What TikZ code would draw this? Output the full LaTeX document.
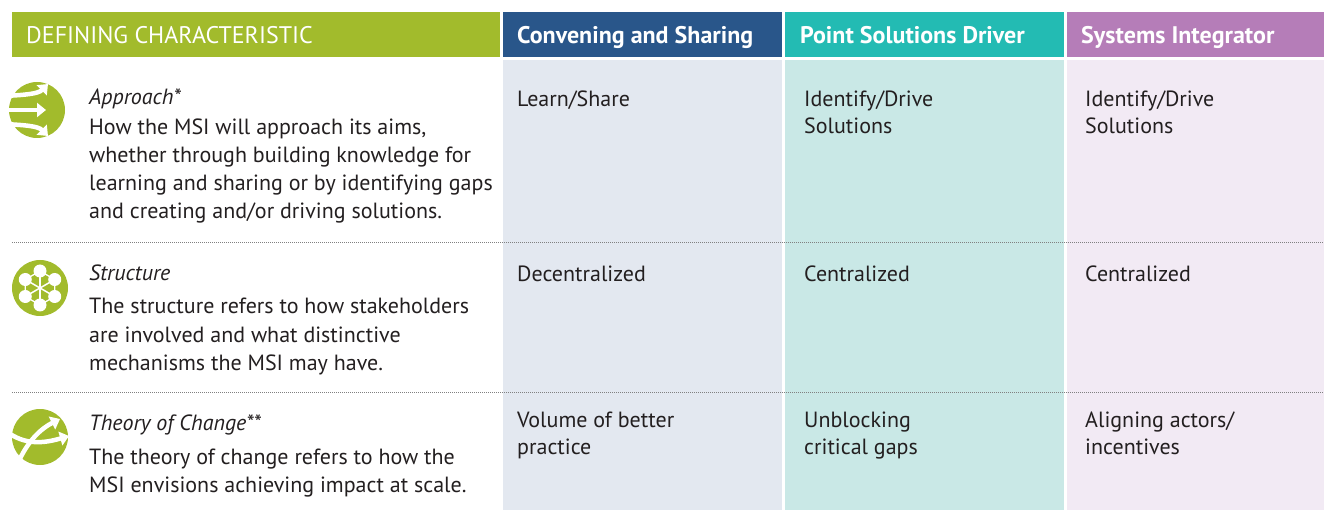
\documentclass[tikz,border=0pt]{standalone}
\usepackage{fontspec}
\setmainfont{PT Sans}
\usetikzlibrary{arrows.meta,positioning}
\definecolor{hdgreen}{HTML}{A2BB2C}
\definecolor{hdblue}{HTML}{29568A}
\definecolor{hdteal}{HTML}{23BBB3}
\definecolor{hdpurple}{HTML}{B57DB8}
\definecolor{cellblue}{HTML}{E3E8F0}
\definecolor{cellteal}{HTML}{C9E8E6}
\definecolor{cellpurple}{HTML}{F2EAF4}
\definecolor{txt}{HTML}{231F20}
\tikzstyle{head}=[anchor=base west,inner sep=0pt,text=white,font=\fontsize{24}{28}\selectfont\bfseries]
\tikzstyle{title}=[anchor=base west,inner sep=0pt,text=txt,font=\fontsize{22}{28}\selectfont\itshape]
\tikzstyle{body}=[anchor=base west,inner sep=0pt,text=txt,align=left,font=\fontsize{22}{28}\selectfont]
\tikzstyle{cell}=[body,font=\fontsize{22}{27}\selectfont]
\tikzstyle{sep}=[gray,line width=0.9pt,dash pattern=on 1pt off 1pt]
\tikzstyle{icon}=[fill=hdgreen]
\tikzstyle{swoosh}=[white,line width=4.5pt,-{Triangle[width=14pt,length=9pt]}]

\begin{document}
\begin{tikzpicture}[x=1pt,y=-1pt]
\useasboundingbox (0,0) rectangle (1324,510);

\fill[hdgreen] (12,12) rectangle (500,57);
\fill[hdblue] (503,12) rectangle (782,57);
\fill[hdteal] (785,12) rectangle (1064,57);
\fill[hdpurple] (1067,12) rectangle (1324,57);
\fill[cellblue] (503,60) rectangle (782,510);
\fill[cellteal] (785,60) rectangle (1064,510);
\fill[cellpurple] (1067,60) rectangle (1324,510);

\node[head,font=\fontsize{24}{28}\selectfont] (defc) at (26,44) {DEFINING CHARACTERISTIC};
\node[head] (conv) at (517,44) {Convening and Sharing};
\node[head] (point) at (800,44) {Point Solutions Driver};
\node[head] (sysint) at (1081,44) {Systems Integrator};

\draw[sep] (12,242) -- (1324,242);
\draw[sep] (12,392) -- (1324,392);

% icons
\fill[icon] (37,110) circle (28);
\draw[swoosh] (4,110) -- (46,110);
\draw[swoosh] (4,96) .. controls (24,95) and (38,94) .. (48,84);
\draw[swoosh] (4,124) .. controls (24,125) and (38,126) .. (48,136);

\fill[icon] (40,288) circle (28);
\draw[white,line width=1.3pt] (40,288) +(30:17) -- +(90:17) -- +(150:17) -- +(210:17) -- +(270:17) -- +(330:17) -- cycle;
\foreach \a in {30,90,...,330} {
  \draw[white,line width=1.5pt] (40,288) -- +(\a:17);
  \fill[white] (40,288) +(\a:17) circle (6.5);
}

\fill[icon] (40,437) circle (28);
\draw[swoosh] (18,463) .. controls (28,440) and (42,428) .. (60,419);
\draw[swoosh] (6,431) .. controls (25,446) and (45,443) .. (69,436);

% row texts (base = last line)
\node[title] (apprT) at (89,105) {Approach*};
\node[body] (apprB) at (89,219) {How the MSI will approach its aims,\\whether through building knowledge for\\learning and sharing or by identifying gaps\\and creating and/or driving solutions.};
\node[title] (strucT) at (89,281) {Structure};
\node[body] (strucB) at (89,370) {The structure refers to how stakeholders\\are involved and what distinctive\\mechanisms the MSI may have.};
\node[title] (theoT) at (89,430) {Theory of Change**};
\node[body] (theoB) at (89,492) {The theory of change refers to how the\\MSI envisions achieving impact at scale.};

% cells
\node[cell] (c11) at (517,107) {Learn/Share};
\node[cell] (c12) at (804,134) {Identify/Drive\\Solutions};
\node[cell] (c13) at (1085,134) {Identify/Drive\\Solutions};
\node[cell] (c21) at (517,282) {Decentralized};
\node[cell] (c22) at (804,282) {Centralized};
\node[cell] (c23) at (1085,282) {Centralized};
\node[cell] (c31) at (517,454) {Volume of better\\practice};
\node[cell] (c32) at (804,454) {Unblocking\\critical gaps};
\node[cell] (c33) at (1085,454) {Aligning actors/\\incentives};
\end{tikzpicture}
\end{document}
